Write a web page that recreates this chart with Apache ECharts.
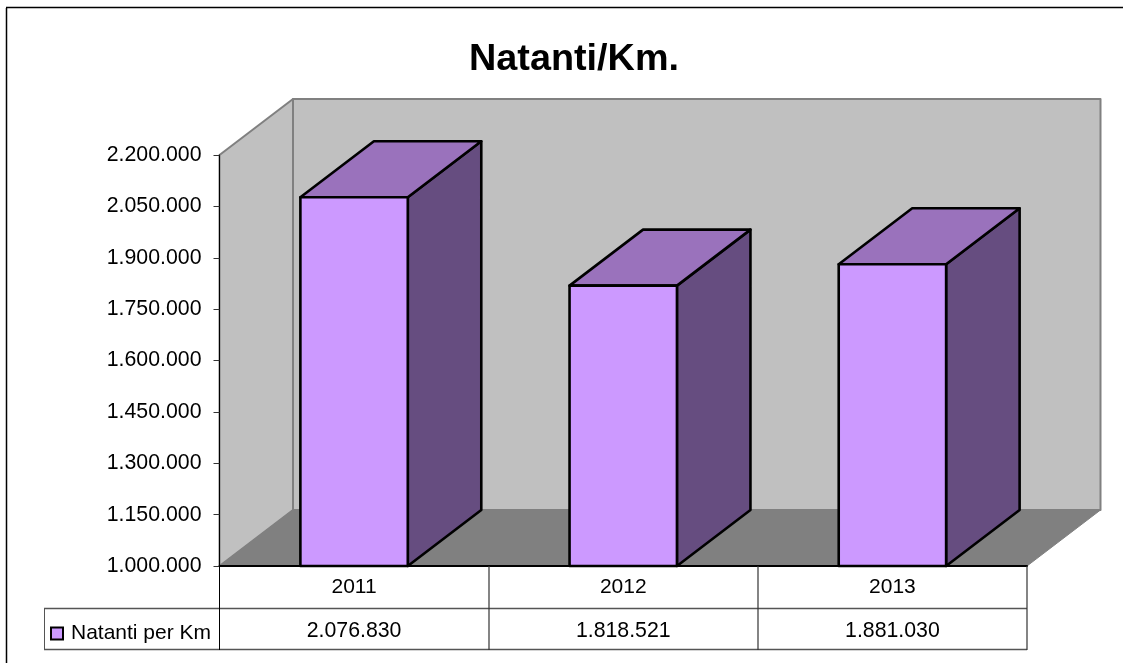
<!DOCTYPE html>
<html><head><meta charset="utf-8">
<style>html,body{margin:0;padding:0;background:#fff}#c{width:1123px;height:663px}</style>
<script src="https://cdn.jsdelivr.net/npm/echarts@6/dist/echarts.min.js"></script>
</head><body><div id="c"></div>
<script>
const titleText = 'Natanti/Km.';
const seriesName = 'Natanti per Km';
const categories = ['2011', '2012', '2013'];
const values = [2076830, 1818521, 1881030];
const axisMin = 1000000, axisMax = 2200000, axisStep = 150000;

const FONT = '"Liberation Sans", Arial, sans-serif';
const DX = 73.5, DY = 56;
const fmt = v => String(v).replace(/\B(?=(\d{3})+$)/g, '.');
const poly = (points, fill, stroke, lw) => ({type:'polygon', shape:{points}, style:{fill, stroke, lineWidth:lw, lineJoin:'round'}});

const chart = echarts.init(document.getElementById('c'), null, {renderer:'canvas'});
const line = (x1,y1,x2,y2,c,w) => ({type:'line', silent:true, z:10, shape:{x1,y1,x2,y2}, style:{stroke:c||'#000', lineWidth:w||1}});

chart.setOption({
  animation:false,
  backgroundColor:'#fff',
  title:{text:titleText, left:569, top:36, textAlign:'center',
    textStyle:{fontFamily:FONT, fontSize:37.8, fontWeight:'bold', color:'#000'}},
  legend:{data:[{name:seriesName, icon:'rect'}], left:50, top:623, itemWidth:12, itemHeight:12, itemGap:0,
    selectedMode:false, padding:0, textStyle:{fontFamily:FONT, fontSize:21, color:'#000', padding:[0,0,0,3]},
    itemStyle:{color:'#CC99FF', borderColor:'#000', borderWidth:2}},
  grid:{left:219.5, right:96, top:155, bottom:97, containLabel:false},
  xAxis:[
    {type:'category', data:categories, position:'bottom', z:3,
     axisLine:{lineStyle:{color:'#000', width:2}}, axisTick:{show:false}, splitLine:{show:false},
     axisLabel:{fontFamily:FONT, fontSize:21, color:'#000', margin:11}},
    {type:'category', data:values.map(fmt), position:'bottom', offset:42, z:3,
     axisLine:{show:false}, axisTick:{show:false}, splitLine:{show:false},
     axisLabel:{fontFamily:FONT, fontSize:21.3, color:'#000', margin:13}}
  ],
  yAxis:{type:'value', min:axisMin, max:axisMax, interval:axisStep, z:3,
    axisLine:{show:true, lineStyle:{color:'#000', width:1}},
    axisTick:{show:true, length:6, lineStyle:{color:'#333', width:1}},
    splitLine:{show:false},
    axisLabel:{fontFamily:FONT, fontSize:21.3, color:'#000', margin:18, formatter:fmt}},
  series:[
    {type:'custom', name:'walls', coordinateSystem:'cartesian2d', xAxisIndex:0, z:1, silent:true, clip:false,
     legendHoverLink:false, data:[[0, axisMin]], encode:{x:0,y:1},
     renderItem(params, api){
       const band = api.size([1,0])[0];
       const x0 = api.coord([0,axisMin])[0]-band/2, x1 = x0+band*categories.length;
       const yb = api.coord([0,axisMin])[1], yt = api.coord([0,axisMax])[1];
       return {type:'group', children:[
         poly([[x0,yb],[x0+DX,yb-DY],[x0+DX,yt-DY],[x0,yt]], '#C0C0C0', '#808080', 2),
         poly([[x0+DX,yb-DY],[x1+DX,yb-DY],[x1+DX,yt-DY],[x0+DX,yt-DY]], '#C0C0C0', '#808080', 2),
         poly([[x0,yb],[x1,yb],[x1+DX,yb-DY],[x0+DX,yb-DY]], '#808080', '#808080', 1)
       ]};
     }},
    {type:'custom', name:seriesName, coordinateSystem:'cartesian2d', xAxisIndex:0, z:4, clip:false,
     itemStyle:{color:'#CC99FF', borderColor:'#000', borderWidth:2},
     data:values.map((v,i)=>[i,v]), encode:{x:0,y:1},
     renderItem(params, api){
       const i = api.value(0), v = api.value(1);
       const band = api.size([1,0])[0], w = band*0.399;
       const top = api.coord([i,v]), base = api.coord([i,axisMin]);
       const l = top[0]-w/2, r = top[0]+w/2, t = top[1], b = base[1];
       return {type:'group', children:[
         poly([[r,b],[r+DX,b-DY],[r+DX,t-DY],[r,t]], '#664D80', '#000', 2.6),
         poly([[l,t],[r,t],[r+DX,t-DY],[l+DX,t-DY]], '#9A72BC', '#000', 2.6),
         poly([[l,b],[r,b],[r,t],[l,t]], '#CC99FF', '#000', 2.6)
       ]};
     }}
  ],
  graphic:{elements:[
    line(6.5,8,6.5,663,'#000',1.5), line(6,7.5,1123,7.5,'#000',1.5),
    line(44,608.5,1027,608.5,'#555',1.5), line(44,649.5,1027,649.5,'#555',1.5),
    line(44.5,608,44.5,650,'#555'),
    line(219.5,566,219.5,650,'#000'),
    line(489,566,489,650,'#333',1.2), line(758,566,758,650,'#333',1.2), line(1027,566,1027,650,'#333',1.2)
  ]}
});
</script></body></html>
